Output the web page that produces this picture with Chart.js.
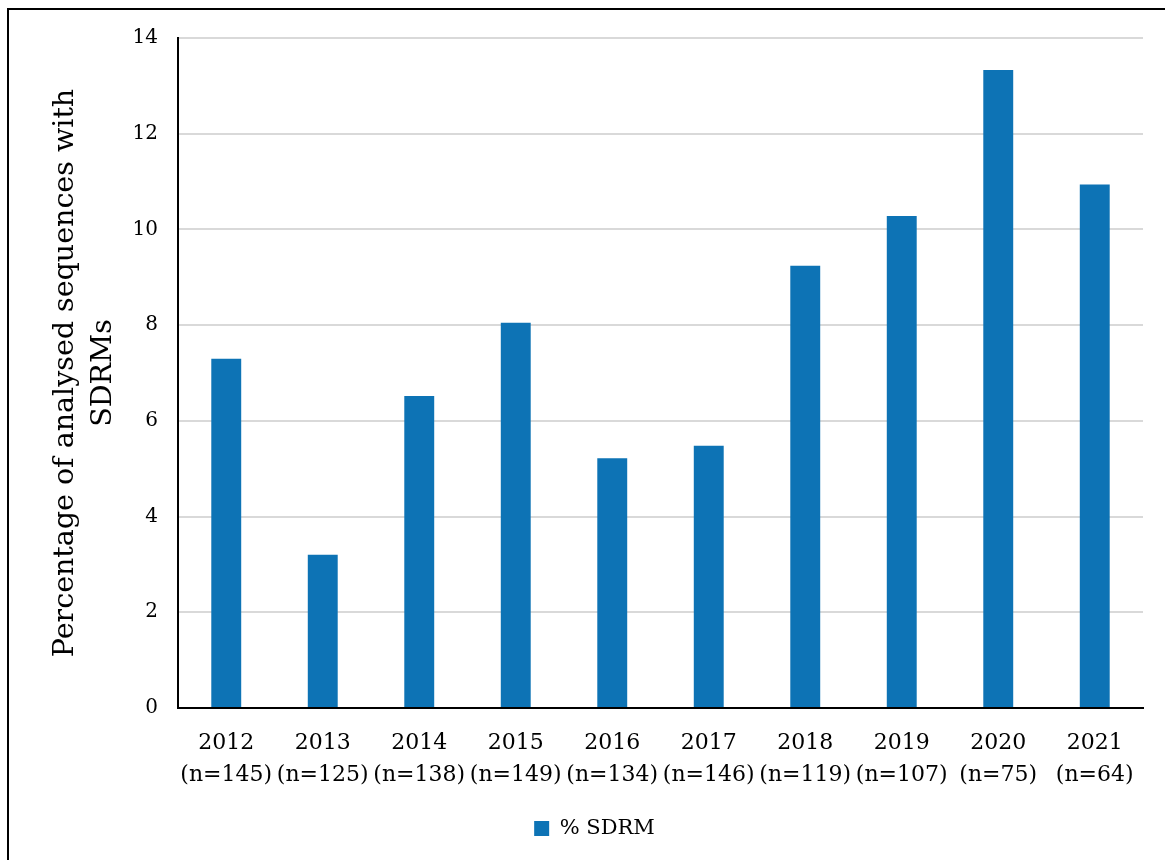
<!DOCTYPE html>
<html>
<head>
<meta charset="utf-8">
<script src="https://cdn.jsdelivr.net/npm/chart.js@4"></script>
<style>
  html, body { margin: 0; padding: 0; background: #fff; overflow: hidden; }
  #wrap { position: relative; width: 1165px; height: 860px; }
  #frame { position: absolute; left: 7px; top: 8px; width: 1200px; height: 900px; border: 2px solid #000; pointer-events: none; }
</style>
</head>
<body>
<div id="wrap">
  <canvas id="chart" width="1165" height="860"></canvas>
  <div id="frame"></div>
</div>
<script>
// Share of analysed sequences carrying SDRMs, by sampling year
const years = ['2012', '2013', '2014', '2015', '2016', '2017', '2018', '2019', '2020', '2021'];
const counts = ['(n=145)', '(n=125)', '(n=138)', '(n=149)', '(n=134)', '(n=146)', '(n=119)', '(n=107)', '(n=75)', '(n=64)'];
const pctSdrm = [7.30, 3.20, 6.52, 8.05, 5.22, 5.48, 9.24, 10.28, 13.33, 10.94];
const yTicks = [0, 2, 4, 6, 8, 10, 12, 14];

const serif = '"DejaVu Serif", serif';
const blue = '#0d73b5';

const labels = years.map((y, i) => [y, counts[i]]);

new Chart(document.getElementById('chart'), {
    type: 'bar',
    data: {
        labels,
        datasets: [{
            label: '% SDRM',
            data: pctSdrm,
            backgroundColor: blue,
            borderWidth: 0,
            barPercentage: 0.62,
            categoryPercentage: 0.5
        }]
    },
    options: {
        responsive: false,
        animation: false,
        layout: { padding: { left: 46, right: 22, top: 38, bottom: 11 } },
        plugins: {
            legend: {
                position: 'bottom',
                labels: {
                    font: { family: serif, size: 21 },
                    color: '#000',
                    boxWidth: 15,
                    boxHeight: 15,
                    padding: 10
                }
            },
            tooltip: { enabled: false }
        },
        scales: {
            x: {
                grid: { display: false, drawTicks: false },
                border: { display: true, color: '#000', width: 2 },
                ticks: { color: '#000', font: { family: serif, size: 22, lineHeight: 1.45 }, padding: 19, maxRotation: 0, autoSkip: false },
                afterFit: s => { s.height = 100; }
            },
            y: {
                min: 0,
                max: 14,
                afterBuildTicks: s => { s.ticks = yTicks.map(v => ({ value: v })); },
                grid: { color: '#d9d9d9', lineWidth: 2, drawTicks: false },
                border: { display: true, color: '#000', width: 2 },
                ticks: { color: '#000', font: { family: serif, size: 20 }, padding: 20 },
                title: {
                    display: true,
                    text: ['Percentage of analysed sequences with', 'SDRMs'],
                    color: '#000',
                    font: { family: serif, size: 28.5, lineHeight: 1.35 },
                    padding: { top: 0, bottom: 0 }
                },
                afterFit: s => { s.width = 132; }
            }
        }
    }
});
</script>
</body>
</html>
